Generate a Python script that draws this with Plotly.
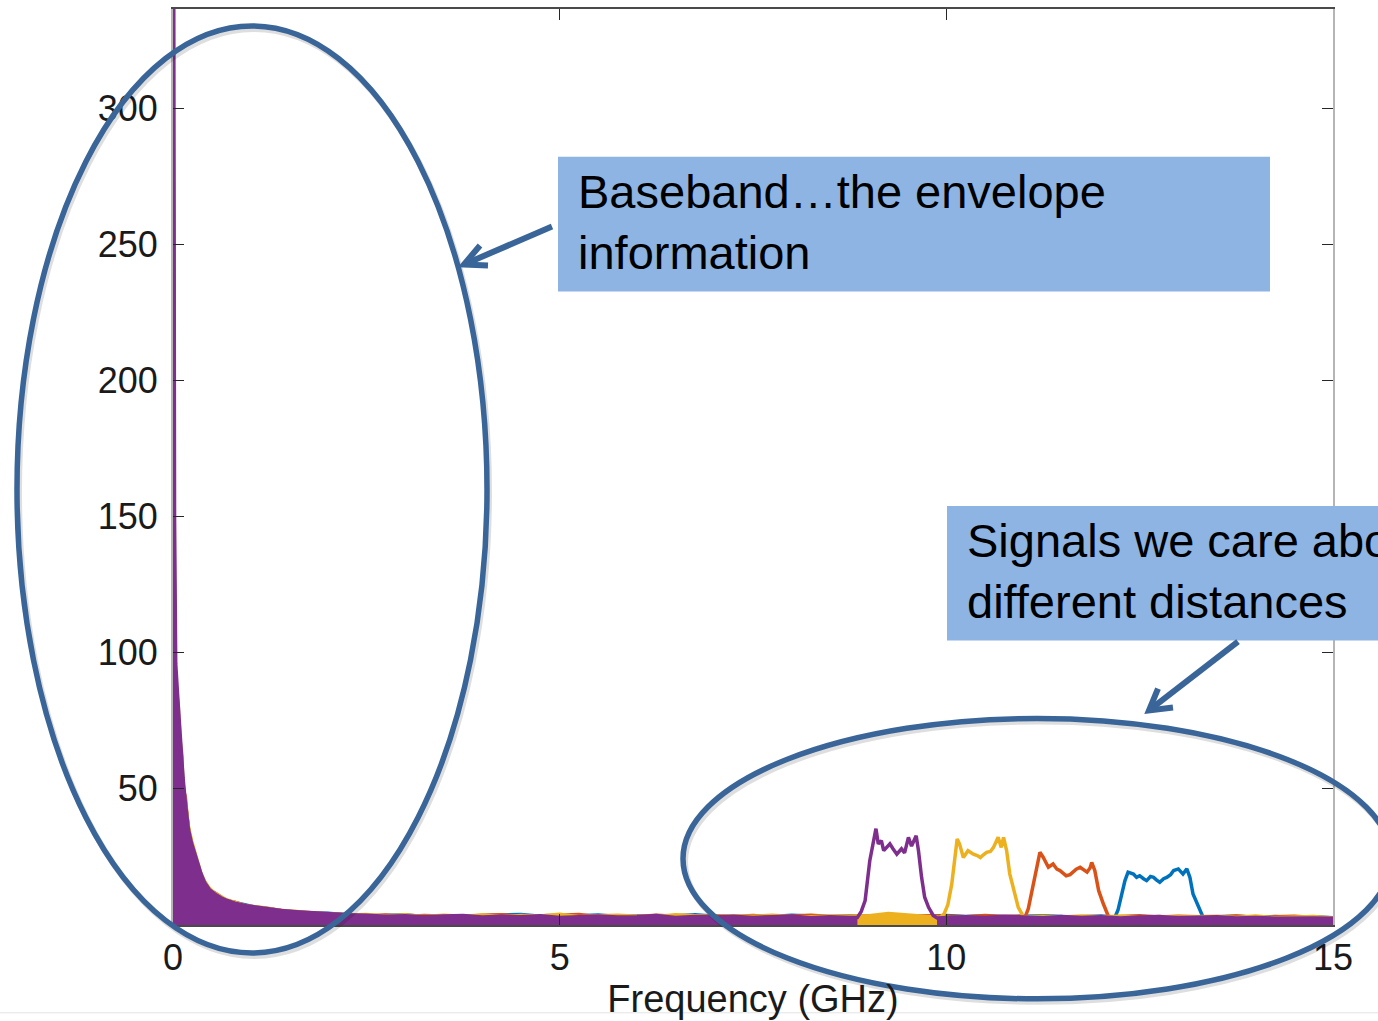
import numpy as np
import plotly.graph_objects as go

# ---------------- data ----------------
# Baseband sample grid (GHz), shared by the four traces
bb_freq = [0.0, 0.01, 0.02, 0.035, 0.065, 0.09, 0.11, 0.13, 0.16, 0.2, 0.24, 0.28,
           0.32, 0.36, 0.41, 0.47, 0.54, 0.62, 0.7, 0.8, 0.95, 1.1, 1.25, 1.4,
           1.6, 1.8, 2.0, 2.25]
purple_bb = [340, 340, 150, 96, 82, 70, 65, 54, 45, 35, 30, 26, 22, 19, 15.5, 13,
             11.4, 10, 9, 8, 7.1, 6.5, 5.8, 5.3, 4.9, 4.5, 4.1, 3.8]
yellow_bb = [300, 112, 90, 86, 82, 68, 64, 52, 46, 36, 31, 26.5, 23, 19, 16, 13.5,
             11.6, 10.4, 9.2, 8.3, 7.0, 6.6, 6.1, 5.2, 5.0, 4.4, 4.2, 3.7]
orange_bb = [314, 105, 85, 80, 74, 64, 60, 50, 47, 34, 30, 25, 22.5, 18, 15.8, 12.8,
             11.8, 10.1, 8.8, 8.4, 6.9, 6.4, 5.9, 5.6, 4.7, 4.5, 4.0, 3.9]
blue_bb = [329, 118, 92, 84, 77, 66, 62, 51, 44, 35.5, 29, 25.5, 21.5, 18.5, 15, 12.6,
           11.2, 9.8, 8.9, 8.2, 7.3, 6.3, 6.0, 5.1, 4.8, 4.3, 4.3, 3.6]

# Noise floor grid 2.5 ... 15 GHz every 0.25 GHz (None = inside that trace's band)
floor_freq = [round(2.5 + 0.25 * k, 2) for k in range(51)]
purple_floor = [3.6, 3.2, 3.4, 3.0, 3.3, 3.5, 2.9, 3.2, 3.0, 3.4, 2.8, 3.1, 3.3, 2.9,
                3.0, 3.5, 2.8, 3.1, 2.9, 3.2, 2.8, 3.0, 3.3, 2.7, 3.0, 2.8,
                None, None, None, None,
                2.7, 3.0, 2.8, 3.2, 2.9, 2.7, 3.1, 2.8, 3.0, 2.6, 2.9, 3.1, 2.7,
                2.8, 3.0, 2.6, 2.8, 2.5, 2.7, 2.6, 2.5]
yellow_floor = [3.9, 3.3, 3.8, 3.1, 3.6, 3.2, 3.7, 3.0, 3.5, 3.3, 3.9, 3.0, 3.4, 3.6,
                3.2, 3.1, 3.8, 3.3, 3.0, 3.4, 3.2, 3.6, 3.1, 3.0, 3.3, 3.2,
                3.4, 4.2, 3.6, 3.0,
                None, None, None, None, None,
                3.2, 2.9, 3.3, 3.0, 3.2, 2.8, 3.1, 2.9, 3.0, 3.2, 2.8, 3.3, 2.7,
                2.9, 3.1, 2.6]
orange_floor = [3.4, 3.7, 3.1, 3.5, 3.2, 3.0, 3.6, 3.8, 3.1, 3.3, 3.5, 3.9, 3.0, 3.3,
                3.1, 3.6, 3.2, 3.0, 3.4, 3.1, 3.5, 3.0, 3.3, 3.6, 3.1, 3.2,
                3.0, 3.3, 3.1, 3.4, 3.2, 3.0, 3.5, 3.1, 3.3,
                None, None, None, None,
                3.1, 3.4, 2.9, 3.2, 3.0, 2.9, 3.3, 2.8, 3.0, 3.2, 2.8, 2.7]
blue_floor = [3.2, 3.5, 3.8, 3.0, 3.4, 3.1, 3.3, 3.6, 3.9, 3.2, 3.0, 3.4, 3.7, 3.1,
              3.3, 3.0, 3.5, 3.8, 3.2, 3.0, 3.3, 3.1, 3.6, 3.2, 3.0, 3.3,
              3.1, 3.4, 3.0, 3.2, 3.5, 3.1, 3.3, 3.0, 3.2, 3.4, 3.1, 3.0, 3.3,
              None, None, None, None, None,
              3.0, 3.2, 2.9, 3.1, 2.8, 3.0, 2.7]

# Reflected signal bands (GHz, magnitude)
purple_band_freq = [8.85, 8.9, 8.95, 9.01, 9.06, 9.09, 9.12, 9.16, 9.19, 9.23, 9.27, 9.31,
                    9.36, 9.42, 9.46, 9.51, 9.55, 9.61, 9.64, 9.68, 9.72, 9.77, 9.83, 9.88]
purple_band = [2.8, 5.0, 9.0, 23.6, 31.0, 35.4, 29.8, 31.0, 27.3, 28.5, 29.8, 28.0,
               26.0, 28.0, 26.5, 32.2, 29.0, 32.8, 27.3, 17.5, 10.2, 6.5, 3.5, 2.6]
yellow_band_freq = [9.92, 9.97, 10.02, 10.07, 10.11, 10.14, 10.17, 10.22, 10.28, 10.35,
                    10.40, 10.44, 10.48, 10.52, 10.57, 10.61, 10.67, 10.71, 10.74, 10.78,
                    10.82, 10.87, 10.93, 11.0]
yellow_band = [2.8, 4.0, 7.5, 15.0, 24.8, 31.6, 29.8, 24.8, 27.3, 26.0, 25.5, 24.8,
               25.8, 26.7, 27.0, 28.5, 32.2, 28.5, 32.2, 27.3, 18.8, 12.6, 6.5, 2.9]
orange_band_freq = [11.02, 11.06, 11.10, 11.14, 11.17, 11.21, 11.25, 11.29, 11.32, 11.38,
                    11.43, 11.47, 11.51, 11.55, 11.60, 11.64, 11.68, 11.73, 11.78, 11.82,
                    11.86, 11.88, 11.92, 11.97, 12.03, 12.10]
orange_band = [3.0, 6.0, 11.4, 16.5, 21.2, 26.7, 25.0, 23.0, 21.2, 22.4, 20.5, 20.0,
               19.0, 18.1, 18.5, 19.4, 20.5, 21.2, 20.0, 19.4, 21.0, 23.0, 20.0, 12.6,
               7.8, 2.9]
blue_band_freq = [12.18, 12.22, 12.25, 12.28, 12.31, 12.35, 12.42, 12.46, 12.50, 12.55,
                  12.59, 12.64, 12.68, 12.72, 12.76, 12.81, 12.85, 12.90, 12.94, 13.00,
                  13.06, 13.11, 13.15, 13.19, 13.26, 13.32]
blue_band = [2.9, 5.5, 9.0, 12.5, 16.3, 19.4, 18.7, 17.5, 18.1, 17.0, 16.3, 17.8,
             17.5, 16.5, 15.7, 17.0, 17.5, 18.5, 20.0, 20.6, 18.7, 20.6, 17.5, 11.4,
             6.5, 2.9]

x_ticks = [0, 5, 10, 15]
y_ticks = [50, 100, 150, 200, 250, 300]

# ---------------- styling ----------------
COLORS = {"blue": "#0072BD", "orange": "#D95319", "yellow": "#EDB120", "purple": "#7E2F8E"}
FONT = "Liberation Sans, Arial, sans-serif"
SHAPE_BLUE = "#3A6598"
BOX_FILL = "#8DB4E2"

W, H = 1378, 1021
ML, MR, MT, MB = 173, 45, 7, 96
PW, PH = W - ML - MR, H - MT - MB


def px(x):
    return (x - ML) / PW


def py(y):
    return (H - MB - y) / PH


def build(bb_vals, floor_vals, band_f, band_v):
    pts = list(zip(bb_freq, bb_vals))
    pts += [(f, v) for f, v in zip(floor_freq, floor_vals) if v is not None]
    pts += list(zip(band_f, band_v))
    pts.sort(key=lambda p: p[0])
    f = np.array([p[0] for p in pts])
    v = np.array([p[1] for p in pts], dtype=float)
    return f, v


series = [
    ("blue", blue_bb, blue_floor, blue_band_freq, blue_band),
    ("orange", orange_bb, orange_floor, orange_band_freq, orange_band),
    ("yellow", yellow_bb, yellow_floor, yellow_band_freq, yellow_band),
    ("purple", purple_bb, purple_floor, purple_band_freq, purple_band),
]

fig = go.Figure()
for name, bb, fl, bf, bv in series:
    f, v = build(bb, fl, bf, bv)
    c = COLORS[name]
    lo = f <= bf[0]
    hi = f >= bf[-1]
    for mask in (lo, hi):
        fig.add_trace(go.Scatter(x=f[mask], y=v[mask], mode="lines", fill="tozeroy",
                                 fillcolor=c, line=dict(width=0, color=c),
                                 hoverinfo="skip", showlegend=False))
    fig.add_trace(go.Scatter(x=f, y=v, mode="lines", name=name,
                             line=dict(color=c, width=3.5), showlegend=False))

axis_common = dict(showgrid=False, zeroline=False, ticks="inside", ticklen=11,
                   tickwidth=1.2, tickcolor="#262626", mirror="ticks", showline=True,
                   tickfont=dict(family=FONT, size=36, color="#1a1a1a"))
fig.update_xaxes(range=[0, 15], tickvals=x_ticks, linecolor="#4a4a4a", linewidth=1.5,
                 title=dict(text="Frequency (GHz)", standoff=8,
                            font=dict(family=FONT, size=38, color="#1a1a1a")),
                 **axis_common)
fig.update_yaxes(range=[0, 336.5], tickvals=y_ticks, linecolor="#b5b5b5", linewidth=2,
                 ticklabelstandoff=6, **axis_common)

shapes = []
# faint slide edge line
shapes.append(dict(type="line", xref="paper", yref="paper", x0=px(0), x1=px(W),
                   y0=py(1013), y1=py(1013), line=dict(color="#e3e3e3", width=1)))
# ellipse shadows and ellipses
for (x0, x1, y0, y1) in [(17, 487, 953, 24), (683, 1391, 999, 718)]:
    shapes.append(dict(type="circle", xref="paper", yref="paper", layer="above",
                       x0=px(x0 + 2), x1=px(x1 + 2), y0=py(y0 + 3), y1=py(y1 + 3),
                       line=dict(color="rgba(0,0,0,0.13)", width=6)))
    shapes.append(dict(type="circle", xref="paper", yref="paper", layer="above",
                       x0=px(x0), x1=px(x1), y0=py(y0), y1=py(y1),
                       line=dict(color=SHAPE_BLUE, width=5.5)))
# callout boxes
for (x0, x1, y0, y1) in [(558, 1270, 290, 155), (947, 1420, 640, 505)]:
    shapes.append(dict(type="rect", xref="paper", yref="paper", layer="above",
                       x0=px(x0), x1=px(x1), y0=py(y0), y1=py(y1),
                       fillcolor=BOX_FILL, line=dict(width=0)))
# arrows
for tail, tip, a1, a2 in [((552, 225), (464, 263), (480, 244), (488, 264)),
                          ((1238, 641), (1149, 710), (1158, 688), (1173, 707))]:
    shapes.append(dict(type="path", xref="paper", yref="paper", layer="above",
                       path=f"M {px(tail[0])},{py(tail[1])} L {px(tip[0])},{py(tip[1])}",
                       line=dict(color=SHAPE_BLUE, width=6)))
    shapes.append(dict(type="path", xref="paper", yref="paper", layer="above",
                       path=(f"M {px(a1[0])},{py(a1[1])} L {px(tip[0])},{py(tip[1])} "
                             f"L {px(a2[0])},{py(a2[1])}"),
                       line=dict(color=SHAPE_BLUE, width=6)))

annotations = [
    dict(text="Baseband…the envelope<br>information", xref="paper", yref="paper",
         x=px(576), y=py(220), xanchor="left", yanchor="middle", align="left",
         showarrow=False, font=dict(family=FONT, size=47, color="#000000")),
    dict(text="Signals we care about at<br>different distances", xref="paper", yref="paper",
         x=px(965), y=py(570), xanchor="left", yanchor="middle", align="left",
         showarrow=False, font=dict(family=FONT, size=47, color="#000000")),
]

fig.update_layout(width=W, height=H, margin=dict(l=ML, r=MR, t=MT, b=MB, pad=0),
                  paper_bgcolor="white", plot_bgcolor="white",
                  shapes=shapes, annotations=annotations, showlegend=False)

fig.write_html("out.html")
